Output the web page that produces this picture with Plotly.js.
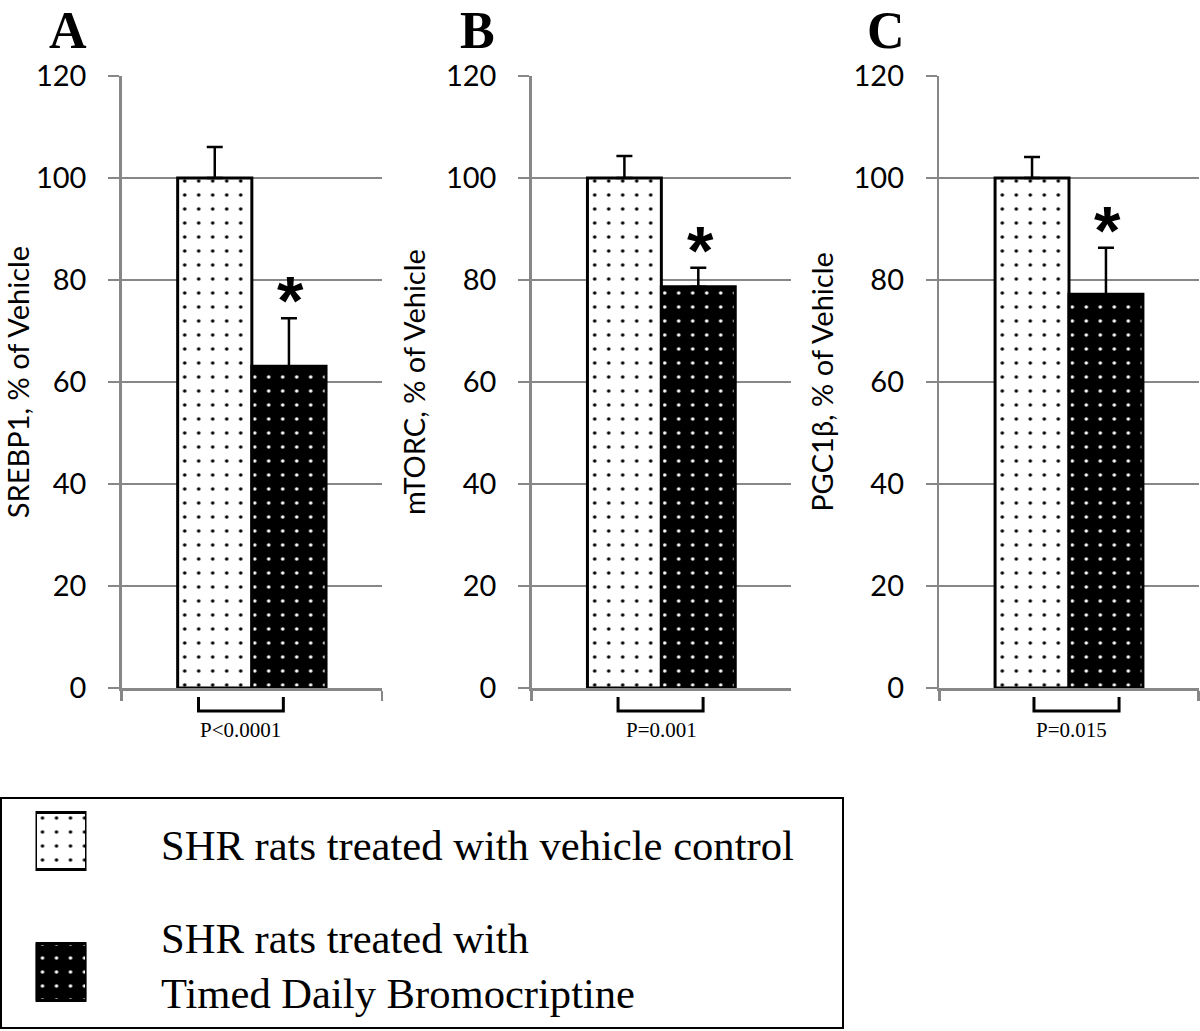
<!DOCTYPE html>
<html>
<head>
<meta charset="utf-8">
<script src="https://cdn.plot.ly/plotly-3.0.1.min.js"></script>
<style>
  html, body { margin: 0; padding: 0; background: #ffffff; }
  #chart { width: 1200px; height: 1031px; }
</style>
</head>
<body>
<div id="chart"></div>
<script>
// ---- data ----
const panelLetters = ['A', 'B', 'C'];
const genes = ['SREBP1', 'mTORC', 'PGC1β'];
const vehicleValues = [100, 100, 100];
const vehicleErrors = [6.1, 4.3, 4.1];
const bromoValues = [63.1, 78.7, 77.2];
const bromoErrors = [9.4, 3.7, 9.1];
const pLabels = ['P<0.0001', 'P=0.001', 'P=0.015'];
const significance = ['*', '*', '*'];
const seriesNames = [
  'SHR rats treated with vehicle control',
  'SHR rats treated with<br>Timed Daily Bromocriptine'
];
const yTickVals = [0, 20, 40, 60, 80, 100, 120];

// ---- styling ----
const GRAY = '#878787';
const SANS = 'Lato, "Liberation Sans", Arial, sans-serif';
const SERIF = '"Liberation Serif", "Times New Roman", serif';
const H = 1031, W = 1200;
const px2x = p => p / W;
const py2y = p => 1 - p / H;

const xDomains = [[121.7, 382], [531.7, 791], [939.3, 1198.7]];
const yDomain = [py2y(688), py2y(76)];
const barW = 0.285;

const vehiclePattern = { shape: '.', fgcolor: '#000000', bgcolor: '#ffffff', size: 14, solidity: 0.05, fillmode: 'replace' };
const bromoPattern = { shape: '.', fgcolor: '#ffffff', bgcolor: '#000000', size: 14, solidity: 0.05, fillmode: 'replace' };

const traces = [];
const layout = {
  width: W, height: H,
  margin: { l: 0, r: 0, t: 0, b: 0 },
  paper_bgcolor: '#ffffff',
  plot_bgcolor: '#ffffff',
  showlegend: false,
  barmode: 'group',
  annotations: [],
  shapes: []
};

const bracketX = [[-0.205, 0.121], [-0.167, 0.161], [-0.135, 0.193]];
const pTextX = [-0.044, 0.0, 0.01];

genes.forEach((g, i) => {
  const n = i === 0 ? '' : String(i + 1);
  const xa = 'x' + n, ya = 'y' + n;
  traces.push({
    type: 'bar', x: [g], y: [vehicleValues[i]], name: seriesNames[0],
    xaxis: xa, yaxis: ya, width: barW, offset: -barW,
    marker: { color: '#ffffff', line: { color: '#000000', width: 3 }, pattern: vehiclePattern },
    error_y: { type: 'data', symmetric: false, array: [vehicleErrors[i]], arrayminus: [0], color: '#000000', thickness: 2.5, width: 8 },
    hoverinfo: 'skip'
  });
  traces.push({
    type: 'bar', x: [g], y: [bromoValues[i]], name: seriesNames[1],
    xaxis: xa, yaxis: ya, width: barW, offset: 0,
    marker: { color: '#000000', line: { color: '#000000', width: 3 }, pattern: bromoPattern },
    error_y: { type: 'data', symmetric: false, array: [bromoErrors[i]], arrayminus: [0], color: '#000000', thickness: 2.5, width: 8 },
    hoverinfo: 'skip'
  });
  layout['xaxis' + n] = {
    domain: [px2x(xDomains[i][0]), px2x(xDomains[i][1])],
    anchor: ya, type: 'category', range: [-0.5, 0.5],
    showline: true, linecolor: GRAY, linewidth: 2.5,
    ticks: 'outside', tickson: 'boundaries', ticklen: 10, tickwidth: 2.5, tickcolor: GRAY,
    showticklabels: false, showgrid: false, zeroline: false, fixedrange: true
  };
  layout['yaxis' + n] = {
    domain: yDomain, anchor: xa, range: [0, 120],
    tickmode: 'array', tickvals: yTickVals,
    showline: true, linecolor: GRAY, linewidth: 2.5,
    ticks: 'outside', ticklen: 11, tickwidth: 2.5, tickcolor: GRAY,
    showgrid: true, gridcolor: GRAY, gridwidth: 2.5, zeroline: false,
    tickfont: { family: SANS, size: 29, color: '#000000' },
    ticklabelstandoff: 16,
    title: { text: g + ', % of Vehicle', font: { family: SANS, size: 29, color: '#000000' }, standoff: 12 },
    fixedrange: true
  };
  // significance asterisk above the treatment error bar
  layout.annotations.push({
    xref: xa, yref: ya, x: g, y: bromoValues[i] + bromoErrors[i],
    xshift: (barW / 2) * (xDomains[i][1] - xDomains[i][0]) + 2,
    yshift: -22,
    text: significance[i], showarrow: false, yanchor: 'bottom', xanchor: 'center',
    font: { family: '"Liberation Sans", Arial, sans-serif', size: 68, color: '#000000', weight: 'bold' }
  });
  // panel letter
  layout.annotations.push({
    xref: 'paper', yref: 'paper', x: px2x([68, 477, 886][i]), y: 1,
    text: '<b>' + panelLetters[i] + '</b>', showarrow: false, xanchor: 'center', yanchor: 'top',
    font: { family: SERIF, size: 52, color: '#000000' }
  });
  // p-value
  layout.annotations.push({
    xref: xa, yref: 'paper', x: pTextX[i], y: py2y(730),
    text: pLabels[i], showarrow: false, xanchor: 'center', yanchor: 'middle',
    font: { family: SERIF, size: 21, color: '#000000' }
  });
  layout.shapes.push({
    type: 'path', xref: xa, yref: 'paper',
    path: 'M' + (bracketX[i][0]) + ',' + py2y(697) + ' L' + bracketX[i][0] + ',' + py2y(711) +
          ' L' + bracketX[i][1] + ',' + py2y(711) + ' L' + bracketX[i][1] + ',' + py2y(697),
    line: { color: '#000000', width: 3 }
  });
});

// ---- legend box (custom, large swatches) ----
layout.shapes.push({
  type: 'rect', xref: 'paper', yref: 'paper',
  x0: px2x(1), x1: px2x(843), y0: py2y(1028), y1: py2y(798),
  line: { color: '#000000', width: 2 }, fillcolor: 'rgba(0,0,0,0)'
});
const swatchW = 0.435;
traces.push({
  type: 'bar', orientation: 'h', x: [1], y: [0], xaxis: 'x4', yaxis: 'y4',
  width: swatchW, offset: -swatchW / 2, hoverinfo: 'skip',
  marker: { color: '#ffffff', line: { color: '#000000', width: 3 }, pattern: vehiclePattern }
});
traces.push({
  type: 'bar', orientation: 'h', x: [1], y: [1], xaxis: 'x4', yaxis: 'y4',
  width: swatchW, offset: -swatchW / 2, hoverinfo: 'skip',
  marker: { color: '#000000', line: { color: '#000000', width: 3 }, pattern: bromoPattern }
});
layout.xaxis4 = { domain: [px2x(35.5), px2x(86.5)], anchor: 'y4', range: [0, 1], visible: false, fixedrange: true };
layout.yaxis4 = { domain: [py2y(1002), py2y(811)], anchor: 'x4', range: [1.229, -0.229], visible: false, fixedrange: true };

layout.annotations.push({
  xref: 'paper', yref: 'paper', x: px2x(159), y: py2y(845),
  text: seriesNames[0], showarrow: false, xanchor: 'left', yanchor: 'middle', align: 'left',
  font: { family: SERIF, size: 42.6, color: '#000000' }
});
layout.annotations.push({
  xref: 'paper', yref: 'paper', x: px2x(159), y: py2y(966),
  text: seriesNames[1], showarrow: false, xanchor: 'left', yanchor: 'middle', align: 'left',
  font: { family: SERIF, size: 42.6, color: '#000000' }
});

Plotly.newPlot('chart', traces, layout, { displayModeBar: false, staticPlot: true });
</script>
</body>
</html>
